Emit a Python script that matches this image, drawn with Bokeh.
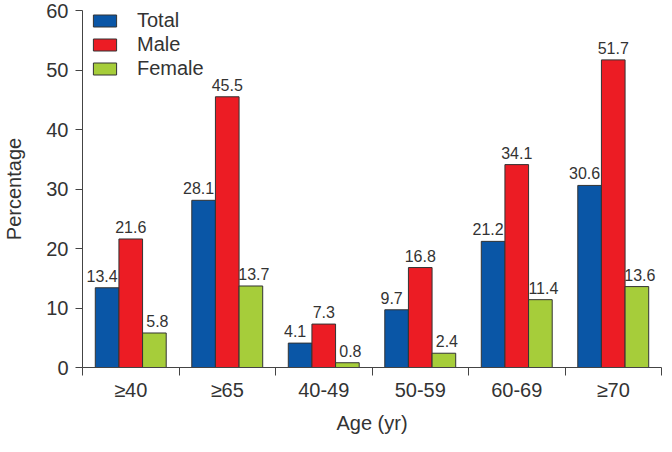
from bokeh.plotting import figure
from bokeh.models import ColumnDataSource, FixedTicker, Range1d, Legend, LegendItem, LabelSet
from bokeh.core.properties import value
from bokeh.transform import dodge
from bokeh.embed import file_html
from bokeh.resources import INLINE

categories = ["≥40", "≥65", "40-49", "50-59", "60-69", "≥70"]
total = [13.4, 28.1, 4.1, 9.7, 21.2, 30.6]
male = [21.6, 45.5, 7.3, 16.8, 34.1, 51.7]
female = [5.8, 13.7, 0.8, 2.4, 11.4, 13.6]
y_ticks = [0, 10, 20, 30, 40, 50, 60]

FONT = "Liberation Sans"
TXT = "#333333"

centers = [i + 0.5 for i in range(len(categories))]
src = ColumnDataSource(dict(
    xc=centers, total=total, male=male, female=female,
    total_lbl=[f"{v:.1f}" for v in total],
    male_lbl=[f"{v:.1f}" for v in male],
    female_lbl=[f"{v:.1f}" for v in female],
))

H = 436
TOP = 10
BOTTOM = 69
FRAME_H = H - TOP - BOTTOM
p = figure(width=662, height=H, output_backend="svg", toolbar_location=None,
           x_range=Range1d(0, len(categories)), y_range=Range1d(0, 60),
           min_border_left=76, min_border_right=1, min_border_top=TOP,
           min_border_bottom=BOTTOM)
p.outline_line_color = None
p.xgrid.visible = False
p.ygrid.visible = False
p.background_fill_color = "white"

BW = 0.245
series = [("total", "Total", "#0a56a6", -BW, -5),
          ("male", "Male", "#ec1c24", 0.0, 0),
          ("female", "Female", "#a6cd3a", BW, 3)]
items = []
for key, name, color, off, xo in series:
    r = p.vbar(x=dodge("xc", off), top=key, width=BW, bottom=0, source=src,
               fill_color=color, line_color="#333333", line_width=1)
    items.append(LegendItem(label=name, renderers=[r]))
    labels = LabelSet(x=dodge("xc", off), y=key, text=key + "_lbl", source=src,
                      text_align="center", text_baseline="bottom",
                      y_offset=6, x_offset=xo,
                      text_font=value(FONT), text_font_size="16px", text_color=TXT)
    p.add_layout(labels)

LEG_H = 74
legend = Legend(items=items, location=(8, FRAME_H + TOP - LEG_H - 6), padding=0, margin=0, spacing=1,
                glyph_width=29, glyph_height=15, label_height=15, label_standoff=18,
                label_text_font=FONT, label_text_font_size="20px", label_text_color=TXT,
                border_line_color=None, background_fill_alpha=0)
p.add_layout(legend, "center")

# y axis
p.yaxis.ticker = FixedTicker(ticks=y_ticks)
p.yaxis.axis_label = "Percentage"
p.yaxis.axis_label_text_font = FONT
p.yaxis.axis_label_text_font_size = "20px"
p.yaxis.axis_label_text_font_style = "normal"
p.yaxis.axis_label_text_color = TXT
p.yaxis.axis_label_standoff = 18
p.yaxis.major_label_text_font = FONT
p.yaxis.major_label_text_font_size = "20px"
p.yaxis.major_label_text_color = TXT
p.yaxis.major_label_standoff = 7
p.yaxis.major_tick_in = 0
p.yaxis.major_tick_out = 7
p.yaxis.minor_tick_line_color = None
p.yaxis.axis_line_color = "#444444"
p.yaxis.major_tick_line_color = "#444444"

# x axis
p.xaxis.ticker = FixedTicker(ticks=centers, minor_ticks=list(range(len(categories) + 1)))
p.xaxis.major_label_overrides = {c: lab for c, lab in zip(centers, categories)}
p.xaxis.axis_label = "Age (yr)"
p.xaxis.axis_label_text_font = FONT
p.xaxis.axis_label_text_font_size = "20px"
p.xaxis.axis_label_text_font_style = "normal"
p.xaxis.axis_label_text_color = TXT
p.xaxis.axis_label_standoff = 8
p.xaxis.major_label_text_font = FONT
p.xaxis.major_label_text_font_size = "20px"
p.xaxis.major_label_text_color = TXT
p.xaxis.major_label_standoff = 3
p.xaxis.major_tick_line_color = None
p.xaxis.major_tick_in = 0
p.xaxis.major_tick_out = 0
p.xaxis.minor_tick_in = 0
p.xaxis.minor_tick_out = 8
p.xaxis.minor_tick_line_color = "#444444"
p.xaxis.axis_line_color = "#444444"

open("out.html", "w").write(file_html(p, INLINE))
